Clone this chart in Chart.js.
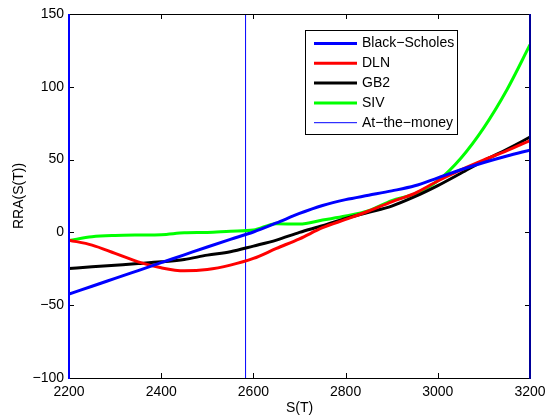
<!DOCTYPE html>
<html>
<head>
<meta charset="utf-8">
<script src="https://cdn.jsdelivr.net/npm/chart.js@4.4.1/dist/chart.umd.min.js"></script>
<style>
  html, body { margin: 0; padding: 0; background: #fff; }
  #wrap { width: 545px; height: 418px; }
</style>
</head>
<body>
<div id="wrap"><canvas id="rraChart" width="545" height="418"></canvas></div>
<script>
// Terminal index level S(T), sampled every 50 points
const strikes = [2200, 2250, 2300, 2350, 2400, 2450, 2500, 2550, 2600, 2650, 2700,
                 2750, 2800, 2850, 2900, 2950, 3000, 3050, 3100, 3150, 3200];

// Relative risk aversion implied by each pricing model
const blackScholes = [-42.4, -37.0, -31.6, -26.2, -20.8, -15.4, -10.0, -4.8, 0.3, 6.5, 13.0,
                      18.5, 22.5, 25.5, 28.5, 32.0, 37.5, 43.0, 48.0, 52.5, 56.5];
const dln = [-5.3, -8.7, -14.4, -20.2, -24.3, -26.4, -25.5, -22.5, -17.9, -11.0, -4.4,
             3.2, 8.9, 14.7, 21.0, 26.8, 35.3, 42.9, 49.8, 56.2, 63.1];
const gb2 = [-24.8, -23.6, -22.5, -21.4, -20.2, -18.6, -15.6, -13.3, -9.4, -5.3, 0.0,
             4.6, 9.6, 13.8, 18.1, 24.5, 32.1, 40.6, 49.3, 57.1, 65.4];
const siv = [-5.5, -3.0, -2.1, -1.8, -1.6, -0.3, 0.0, 0.8, 1.6, 6.0, 5.7,
             8.5, 11.2, 14.9, 21.8, 26.5, 35.5, 51.0, 72.0, 98.0, 128.9];

// Current index level
const atTheMoney = 2583;

const xTicks = [2200, 2400, 2600, 2800, 3000, 3200];
const yTicks = [-100, -50, 0, 50, 100, 150];

const FONT = 'Arial, "Liberation Sans", Helvetica, sans-serif';

function toPoints(values) {
    return strikes.map((s, i) => ({ x: s, y: values[i] }));
}

function curve(label, values, color) {
    return {
        label: label,
        data: toPoints(values),
        borderColor: color,
        backgroundColor: color,
        borderWidth: 3,
        pointRadius: 0,
        cubicInterpolationMode: 'monotone',
        fill: false
    };
}

/**
 * Matlab-like axes: inward ticks on all four sides, the box around the
 * plot, and a boxed legend sitting inside the axes.
 */
const matlabAxes = {
    id: 'matlabAxes',
    afterDatasetsDraw(chart) {
        const { ctx, chartArea: a, scales: { x, y } } = chart;
        const tickLen = 5;
        ctx.save();

        ctx.strokeStyle = '#000';
        ctx.lineWidth = 1;
        ctx.beginPath();
        x.ticks.forEach(t => {
            const px = Math.round(x.getPixelForValue(t.value)) + 0.5;
            ctx.moveTo(px, a.bottom); ctx.lineTo(px, a.bottom - tickLen);
            ctx.moveTo(px, a.top); ctx.lineTo(px, a.top + tickLen);
        });
        y.ticks.forEach(t => {
            const py = Math.round(y.getPixelForValue(t.value)) + 0.5;
            ctx.moveTo(a.left, py); ctx.lineTo(a.left + tickLen, py);
            ctx.moveTo(a.right, py); ctx.lineTo(a.right - tickLen, py);
        });
        ctx.stroke();

        // top and bottom edges
        ctx.beginPath();
        ctx.moveTo(a.left, a.top + 0.5); ctx.lineTo(a.right, a.top + 0.5);
        ctx.moveTo(a.left, a.bottom + 0.5); ctx.lineTo(a.right, a.bottom + 0.5);
        ctx.stroke();

        // side edges carry the blue of the plotted boundary lines
        ctx.lineWidth = 2;
        ctx.strokeStyle = '#0000ff';
        ctx.beginPath();
        ctx.moveTo(a.left, a.top); ctx.lineTo(a.left, a.bottom + 1);
        ctx.stroke();
        ctx.strokeStyle = '#000099';
        ctx.beginPath();
        ctx.moveTo(a.right, a.top); ctx.lineTo(a.right, a.bottom + 1);
        ctx.stroke();

        // legend
        const box = { left: 305, top: 30, width: 152, height: 104 };
        ctx.fillStyle = '#fff';
        ctx.fillRect(box.left, box.top, box.width, box.height);
        ctx.strokeStyle = '#000';
        ctx.lineWidth = 1;
        ctx.strokeRect(box.left + 0.5, box.top + 0.5, box.width, box.height);

        ctx.font = '14px ' + FONT;
        ctx.textBaseline = 'middle';
        ctx.textAlign = 'left';
        chart.data.datasets.forEach((ds, i) => {
            const rowY = box.top + 13.5 + i * 19.8;
            ctx.strokeStyle = ds.borderColor;
            ctx.lineWidth = ds.borderWidth;
            ctx.beginPath();
            ctx.moveTo(box.left + 9, rowY);
            ctx.lineTo(box.left + 52, rowY);
            ctx.stroke();
            ctx.fillStyle = '#000';
            ctx.fillText(ds.label, box.left + 57, rowY);
        });

        ctx.restore();
    }
};

const atmLine = {
    label: 'At\u2212the\u2212money',
    data: [{ x: atTheMoney, y: -100 }, { x: atTheMoney, y: 150 }],
    borderColor: '#0000ff',
    borderWidth: 1,
    pointRadius: 0,
    tension: 0,
    fill: false
};

const ctx = document.getElementById('rraChart').getContext('2d');
new Chart(ctx, {
    type: 'line',
    data: {
        datasets: [
            curve('Black\u2212Scholes', blackScholes, '#0000ff'),
            curve('DLN', dln, '#ff0000'),
            curve('GB2', gb2, '#000000'),
            curve('SIV', siv, '#00ff00'),
            atmLine
        ]
    },
    options: {
        responsive: false,
        animation: false,
        events: [],
        layout: { padding: { left: 0, right: 15, top: 14, bottom: 0 } },
        plugins: {
            legend: { display: false },
            tooltip: { enabled: false }
        },
        scales: {
            x: {
                type: 'linear',
                min: 2200,
                max: 3200,
                afterBuildTicks: scale => { scale.ticks = xTicks.map(v => ({ value: v })); },
                afterFit: scale => {
                    scale.height = 40;
                    scale.paddingLeft = 0;
                    scale.paddingRight = 0;
                },
                grid: { display: false, drawTicks: false },
                border: { display: false },
                ticks: {
                    padding: 6,
                    color: '#000',
                    font: { family: FONT, size: 14 },
                    maxRotation: 0,
                    callback: v => String(v)
                },
                title: {
                    display: true,
                    text: 'S(T)',
                    color: '#000',
                    font: { family: FONT, size: 14 },
                    padding: { top: 0, bottom: 1.6 }
                }
            },
            y: {
                type: 'linear',
                min: -100,
                max: 150,
                afterBuildTicks: scale => { scale.ticks = yTicks.map(v => ({ value: v })); },
                afterFit: scale => {
                    scale.width = 69;
                    scale.paddingTop = 0;
                    scale.paddingBottom = 0;
                },
                grid: { display: false, drawTicks: false },
                border: { display: false },
                ticks: {
                    padding: 5,
                    color: '#000',
                    font: { family: FONT, size: 14 },
                    callback: v => String(v).replace('-', '\u2212')
                },
                title: {
                    display: true,
                    text: 'RRA(S(T))',
                    color: '#000',
                    font: { family: FONT, size: 14 },
                    padding: { top: 10.6, bottom: 0 }
                }
            }
        }
    },
    plugins: [matlabAxes]
});
</script>
</body>
</html>
